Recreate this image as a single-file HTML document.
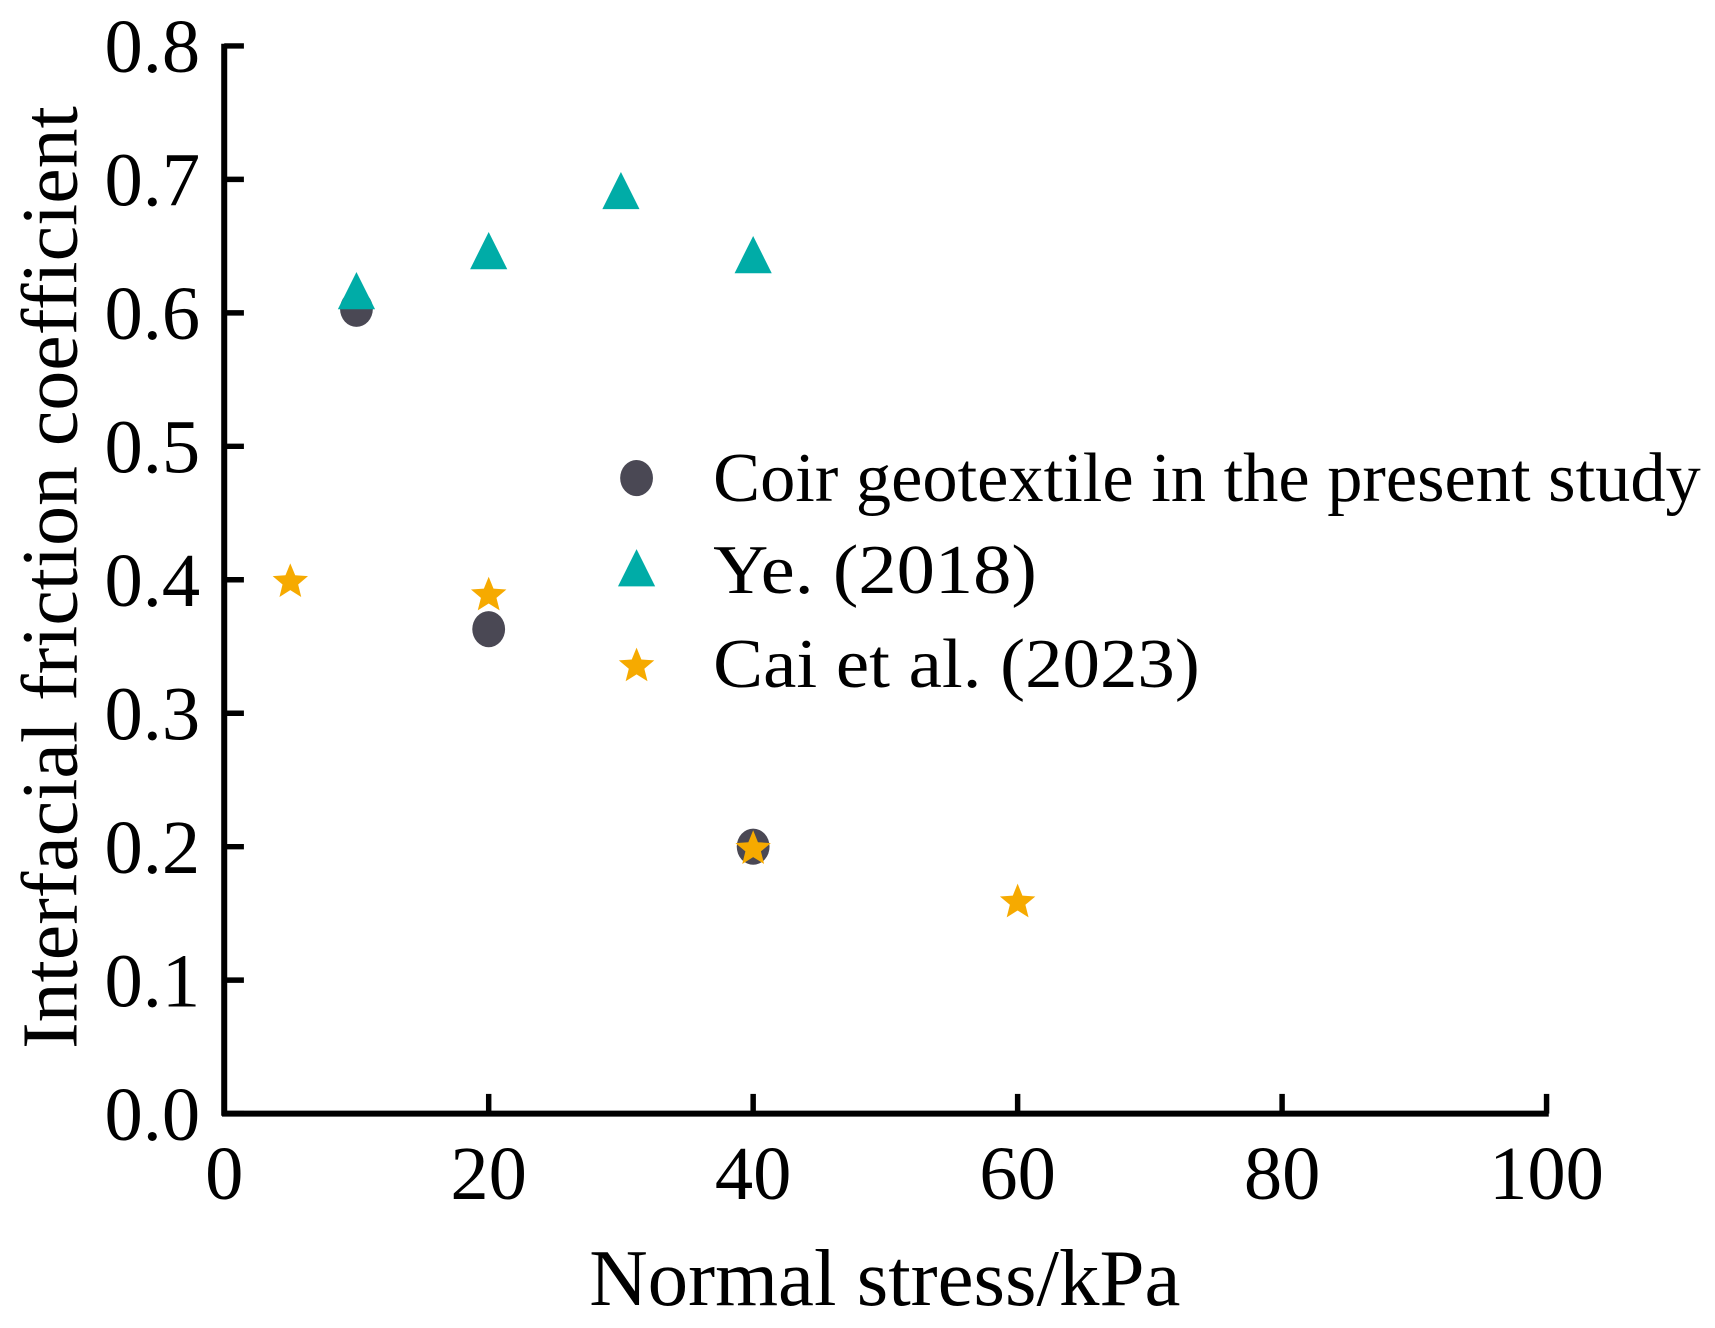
<!DOCTYPE html>
<html><head><meta charset="utf-8"><style>
html,body{margin:0;padding:0;background:#fff;}
svg{display:block;}
text{font-family:"Liberation Serif",serif;fill:#000;}
</style></head><body>
<svg id="chart" width="1715" height="1328" viewBox="0 0 1568 1214" preserveAspectRatio="none" xmlns="http://www.w3.org/2000/svg">
<g id="axes"></g>
<g id="marks"></g>
<g id="legend"></g>
<text x="809" y="1193" font-size="74" text-anchor="middle">Normal stress/kPa</text>
<text transform="translate(70,528) rotate(-90)" font-size="73" text-anchor="middle">Interfacial friction coefficient</text>
</svg>
<script>
const xTicks=[0,20,40,60,80,100];
const yTicks=[0,0.1,0.2,0.3,0.4,0.5,0.6,0.7,0.8];
const yTickLabels=["0.0","0.1","0.2","0.3","0.4","0.5","0.6","0.7","0.8"];
const coirX=[10,20,40];
const coirY=[0.603,0.363,0.2];
const yeX=[10,20,30,40];
const yeY=[0.615,0.645,0.69,0.642];
const caiX=[5,20,40,60];
const caiY=[0.40,0.39,0.20,0.16];
const legendLabels=["Coir geotextile in the present study","Ye. (2018)","Cai et al. (2023)"];

const NS="http://www.w3.org/2000/svg";
const X0=205,X1=1414,Y0=1018,Y1=42;
const legendTextWidths=[903,296,445];
function sx(v){return X0+(v-0)/(100-0)*(X1-X0);}
function sy(v){return Y0-(v-0)/(0.8-0)*(Y0-Y1);}
function mk(tag,attrs,parent){const e=document.createElementNS(NS,tag);for(const k in attrs)e.setAttribute(k,attrs[k]);parent.appendChild(e);return e;}
const axes=document.getElementById('axes'),marks=document.getElementById('marks'),legend=document.getElementById('legend');

let a=mk('line',{x1:X0,y1:Y1-2,x2:X0,y2:Y0+2,stroke:'#000','stroke-width':5.5},axes);


a=mk('line',{x1:X0-2,y1:Y0,x2:X1+2,y2:Y0,stroke:'#000','stroke-width':5.5},axes);



yTicks.forEach((v,i)=>{
  const t=mk('line',{x1:X0,y1:sy(v),x2:X0+18,y2:sy(v),stroke:'#000','stroke-width':5},axes);
  
  
  const l=mk('text',{x:183,y:sy(v)+24,'font-size':70,'text-anchor':'end'},axes);
  l.textContent=yTickLabels[i];
  
  
});
xTicks.forEach(v=>{
  const t=mk('line',{x1:sx(v),y1:Y0,x2:sx(v),y2:Y0-18,stroke:'#000','stroke-width':5},axes);
  
  
  const l=mk('text',{x:sx(v),y:1096,'font-size':70,'text-anchor':'middle'},axes);
  l.textContent=String(v);
  
  
});

function circle(cx,cy,p){return mk('ellipse',{cx:cx,cy:cy,rx:15,ry:16.5,fill:'#4a4854'},p);}
function tri(cx,cy,p){return mk('polygon',{points:`${cx},${cy-19} ${cx+17},${cy+15} ${cx-17},${cy+15}`,fill:'#00aca7'},p);}
function star(cx,cy,p){let pts=[];for(let i=0;i<10;i++){const r=i%2?7.5:17;const ang=-Math.PI/2+i*Math.PI/5;pts.push((cx+r*Math.cos(ang)).toFixed(1)+','+(cy+2+r*Math.sin(ang)).toFixed(1));}return mk('polygon',{points:pts.join(' '),fill:'#f6aa00'},p);}

coirX.forEach((x,i)=>{const e=circle(sx(x),sy(coirY[i]),marks);
  
  });
yeX.forEach((x,i)=>{const e=tri(sx(x),sy(yeY[i]),marks);
  
  });
caiX.forEach((x,i)=>{const e=star(sx(x),sy(caiY[i]),marks);
  
  });

const ly=[437,521,607];
const makers=[circle,tri,star];
legendLabels.forEach((s,i)=>{
  const m=makers[i](582,ly[i],legend);
  
  
  const t=mk('text',{x:652,y:ly[i]+21,'font-size':64,textLength:legendTextWidths[i],lengthAdjust:'spacingAndGlyphs'},legend);
  t.textContent=s;
  
  
});
</script>
</body></html>
